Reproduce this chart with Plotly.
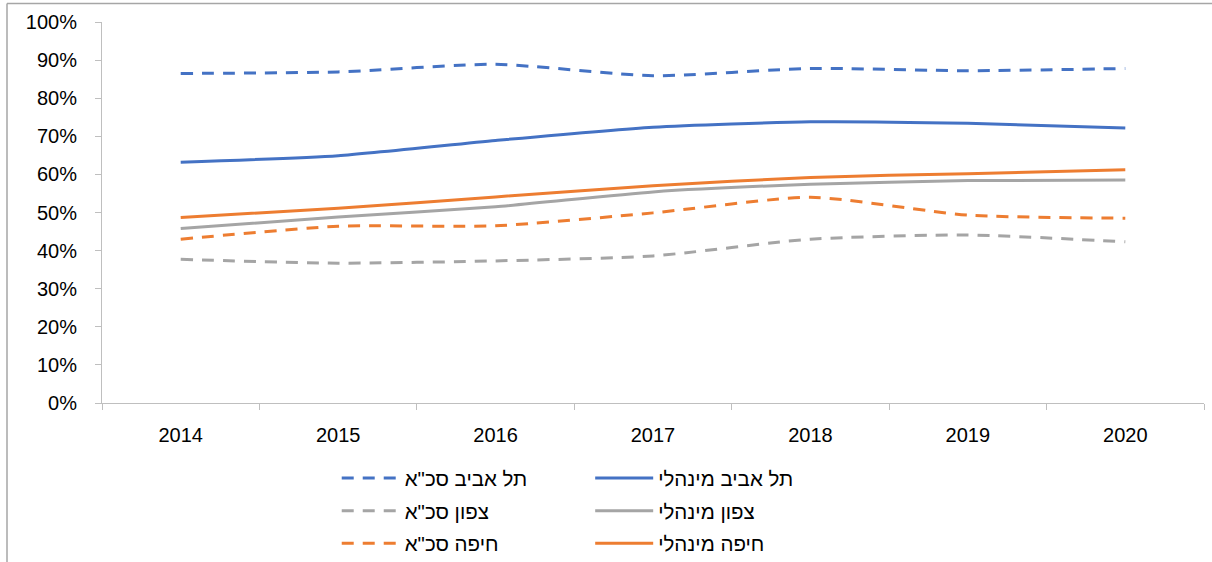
import plotly.graph_objects as go

# Data (share of graduates)
years = ["2014", "2015", "2016", "2017", "2018", "2019", "2020"]

ta_ska = [0.865, 0.869, 0.889, 0.859, 0.878, 0.872, 0.878]
ta_min = [0.632, 0.649, 0.689, 0.724, 0.738, 0.734, 0.722]
tz_ska = [0.377, 0.367, 0.373, 0.386, 0.430, 0.441, 0.423]
tz_min = [0.458, 0.488, 0.515, 0.554, 0.574, 0.584, 0.585]
hf_ska = [0.430, 0.464, 0.465, 0.499, 0.540, 0.493, 0.485]
hf_min = [0.487, 0.511, 0.541, 0.570, 0.592, 0.602, 0.612]

names = ['תל אביב סכ"א', "תל אביב מינהלי",
         'צפון סכ"א', "צפון מינהלי",
         'חיפה סכ"א', "חיפה מינהלי"]

BLUE = "#4472C4"
GRAY = "#A5A5A5"
ORANGE = "#ED7D31"
DASH = "12px,9px"

# dashed series go in the left legend column, solid ones in the right
series = [
    (names[0], ta_ska, BLUE, DASH, "legend"),
    (names[1], ta_min, BLUE, "solid", "legend2"),
    (names[2], tz_ska, GRAY, DASH, "legend"),
    (names[3], tz_min, GRAY, "solid", "legend2"),
    (names[4], hf_ska, ORANGE, DASH, "legend"),
    (names[5], hf_min, ORANGE, "solid", "legend2"),
]

fig = go.Figure()
for i, (name, vals, color, dash, leg) in enumerate(series):
    fig.add_trace(go.Scatter(
        x=years, y=vals, name=name, mode="lines", legend=leg,
        legendgroup="g%d" % i,
        line=dict(color=color, width=3, dash=dash, shape="spline", smoothing=0.6),
    ))

FONT = "Liberation Sans, Arial, sans-serif"
leg_common = dict(
    orientation="v", xanchor="left", yanchor="top",
    font=dict(family=FONT, size=20.5, color="#000000"),
    itemwidth=58, tracegroupgap=3, bgcolor="rgba(0,0,0,0)",
)

fig.update_layout(
    width=1212, height=562,
    margin=dict(l=102, r=8, t=22, b=159, autoexpand=False),
    paper_bgcolor="white", plot_bgcolor="white",
    font=dict(family=FONT, size=20, color="#000000"),
    showlegend=True,
    legend=dict(x=0.213, y=-0.145, **leg_common),
    legend2=dict(x=0.443, y=-0.145, **leg_common),
    xaxis=dict(
        type="category", range=[-0.5, 6.5],
        showline=True, linecolor="#BFBFBF", linewidth=1,
        ticks="outside", ticklen=6, tickcolor="#BFBFBF",
        tickson="boundaries", showgrid=False,
        ticklabelstandoff=14,
        tickfont=dict(size=20),
    ),
    yaxis=dict(
        range=[0, 1], dtick=0.1, tickformat=".0%",
        showline=True, linecolor="#BFBFBF", linewidth=1,
        ticks="outside", ticklen=6, tickcolor="#BFBFBF",
        showgrid=False, zeroline=False,
        ticklabelstandoff=14,
        tickfont=dict(size=20),
    ),
    shapes=[
        dict(type="line", xref="paper", yref="paper",
             x0=-0.0862, x1=1.01, y0=1.0486, y1=1.0486,
             line=dict(color="#A6A6A6", width=1.5)),
        dict(type="line", xref="paper", yref="paper",
             x0=-0.0862, x1=-0.0862, y0=1.0486, y1=-0.42,
             line=dict(color="#A6A6A6", width=1.5)),
    ],
)

fig.write_html("out.html", config={"displayModeBar": False},
               post_script="document.body.style.margin='0';")
